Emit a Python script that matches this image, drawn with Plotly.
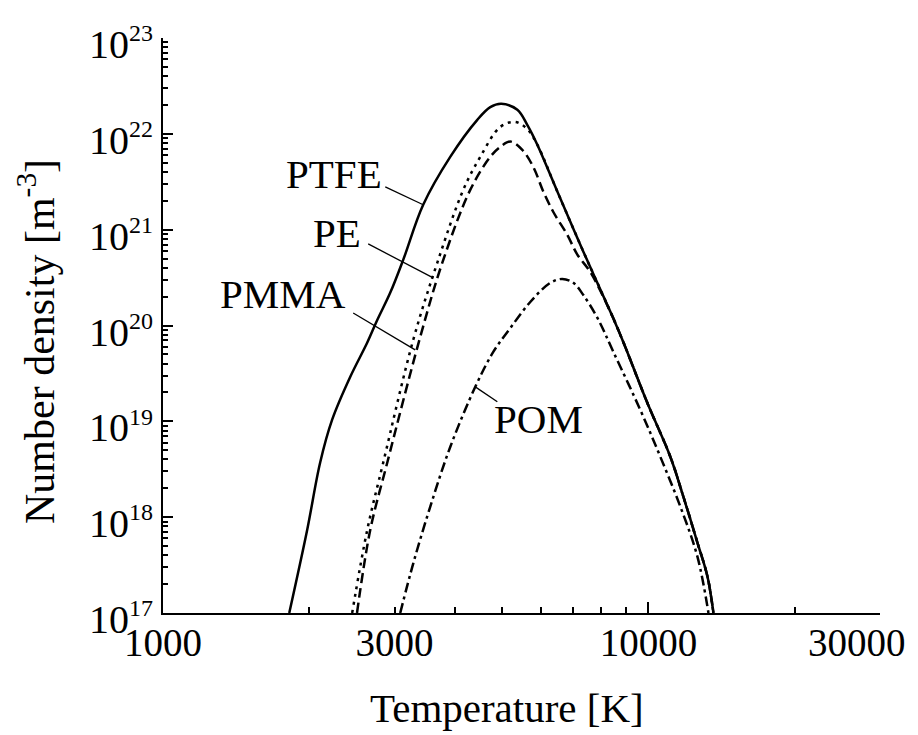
import numpy as np
import plotly.graph_objects as go

# ---------------- data ----------------
ptfe_T = [1820, 1981, 2107, 2231, 2430, 2634, 2763, 2938, 3125, 3436, 3906, 4441, 4723, 4976,
          5370, 5629, 5904, 6492, 7345, 8350, 8880, 9953, 11101, 11807, 12622, 13233, 13614]
ptfe_n = [1.0e17, 7.3e17, 3.7e18, 1.04e19, 2.9e19, 6.6e19, 1.14e20, 2.19e20, 4.84e20, 1.82e21,
          5.75e21, 1.4e22, 1.9e22, 2.06e22, 1.78e22, 1.24e22, 7.7e21, 2.5e21, 5.9e20, 1.39e20,
          6.7e19, 1.55e19, 4.25e18, 1.63e18, 5.4e17, 2.4e17, 1.0e17]

pe_T = [2453, 2634, 2842, 3278, 3673, 4155, 4504, 4953, 5318, 5629, 5904, 6492, 7345, 8350, 8880,
        9953, 11101, 11807, 12622, 13233, 13614]
pe_n = [1.0e17, 7.3e17, 3.7e18, 7.1e19, 4.5e20, 2.6e21, 5.75e21, 1.18e22, 1.33e22, 1.12e22, 7.7e21,
        2.5e21, 5.9e20, 1.39e20, 6.7e19, 1.55e19, 4.25e18, 1.63e18, 5.4e17, 2.4e17, 1.0e17]

pmma_T = [2510, 2672, 2897, 3388, 3761, 4295, 4723, 4953, 5194, 5498, 5794, 6074, 6370, 6808, 7138,
          7594, 8350, 8880, 9953, 11101, 11807, 12622, 13233, 13614]
pmma_n = [1.0e17, 7.3e17, 3.7e18, 7.6e19, 4.5e20, 2.6e21, 5.75e21, 7.3e21, 8.3e21, 6.8e21, 4.5e21,
          2.5e21, 1.53e21, 8.8e20, 5.5e20, 3.6e20, 1.39e20, 6.7e19, 1.55e19, 4.25e18, 1.63e18,
          5.4e17, 2.4e17, 1.0e17]

pom_T = [3081, 3278, 3552, 3906, 4399, 4791, 5194, 5710, 6281, 6646, 7005, 7345, 7852, 8470, 9627,
         10585, 11641, 12622, 13297]
pom_n = [1.0e17, 3.3e17, 1.28e18, 5.4e18, 2.29e19, 5.3e19, 9.4e19, 1.76e20, 2.79e20, 3.06e20, 2.79e20,
         2.08e20, 1.2e20, 5.3e19, 1.31e19, 4.25e18, 1.28e18, 3.85e17, 1.0e17]

series_names = ["PTFE", "PE", "PMMA", "POM"]

# leader lines: (label end) -> (point on curve)
leader_T = {"PTFE": [2870, 3436], "PE": [2647, 3603], "PMMA": [2465, 3308], "POM": [4399, 4884]}
leader_n = {"PTFE": [2.8e21, 1.82e21], "PE": [7.1e20, 3.14e20], "PMMA": [1.35e20, 5.56e19],
            "POM": [2.29e19, 1.6e19]}

x_tick_vals = [1000, 3000, 10000]
x_tick_text = ["1000", "3000", "10000"]
x_edge_tick_text = "30000"
x_long_ticks = [1000, 10000]

y_exponents = [17, 18, 19, 20, 21, 22, 23]
y_tick_vals = [10.0 ** e for e in y_exponents]
y_tick_text = ["10<sup><span style='font-size:24px'>%d</span></sup>" % e for e in y_exponents]

x_title = "Temperature [K]"
y_title = "Number density [m<sup>-3</sup>]"

FONT = "Liberation Serif, Times New Roman, serif"

fig = go.Figure()

styles = {
    "PTFE": dict(color="black", width=2.5, dash="solid"),
    "PE": dict(color="black", width=2.5, dash="3px,5px"),
    "PMMA": dict(color="black", width=2.5, dash="10px,5px"),
    "POM": dict(color="black", width=2.5, dash="10px,4px,3px,4px"),
}
data = {"PTFE": (ptfe_T, ptfe_n), "PE": (pe_T, pe_n), "PMMA": (pmma_T, pmma_n), "POM": (pom_T, pom_n)}

for name in series_names:
    T, n = data[name]
    fig.add_trace(go.Scatter(x=T, y=n, mode="lines", name=name,
                             line=dict(shape="spline", smoothing=1.0, **styles[name]),
                             showlegend=False, hoverinfo="skip"))

for name in series_names:
    fig.add_trace(go.Scatter(x=leader_T[name], y=leader_n[name], mode="lines",
                             line=dict(color="black", width=1.3), showlegend=False, hoverinfo="skip"))

# invisible trace on the overlay axis that carries the long ticks
fig.add_trace(go.Scatter(x=[x_long_ticks[0]], y=[y_tick_vals[0]], xaxis="x2", mode="markers",
                         marker=dict(opacity=0), showlegend=False, hoverinfo="skip"))

# page body has an 8px margin -> figure coords = screen coords - 8
OFF = 8
W, H = 918, 735
L, TOP = 163 - OFF, 38 - OFF
R = W - (880 - OFF)
B = H - (613 - OFF)
pw, ph = W - L - R, H - TOP - B


def px2paper(px, py):
    """screen pixel -> paper coordinates"""
    return (px - OFF - L) / pw, (H - B - (py - OFF)) / ph


label_pos = {"PTFE": (384, 174, "right"), "PE": (363, 233, "right"), "PMMA": (348, 294, "right"),
             "POM": (492, 419, "left")}
annotations = []
for name in series_names:
    px, py, anc = label_pos[name]
    ax_, ay_ = px2paper(px, py)
    annotations.append(dict(x=ax_, y=ay_, xref="paper", yref="paper", text=name, showarrow=False,
                            xanchor=anc, yanchor="middle", font=dict(family=FONT, size=41, color="black")))

tx, ty = px2paper(507, 708)
annotations.append(dict(x=tx, y=ty, xref="paper", yref="paper", text=x_title, showarrow=False,
                        xanchor="center", yanchor="middle", font=dict(family=FONT, size=41, color="black")))
yx, yy = px2paper(36, 342)
annotations.append(dict(x=yx, y=yy, xref="paper", yref="paper", text=y_title, showarrow=False,
                        textangle=-90, xanchor="center", yanchor="middle",
                        font=dict(family=FONT, size=42, color="black")))
ex, ey = px2paper(908, 642)
annotations.append(dict(x=ex, y=ey, xref="paper", yref="paper", text=x_edge_tick_text, showarrow=False,
                        xanchor="right", yanchor="middle", font=dict(family=FONT, size=39, color="black")))

xrange = [np.log10(1000), np.log10(30000)]
fig.update_layout(
    width=W, height=H,
    margin=dict(l=L, r=R, t=TOP, b=B),
    paper_bgcolor="white", plot_bgcolor="white",
    font=dict(family=FONT, size=39, color="black"),
    xaxis=dict(type="log", range=xrange, showgrid=False, zeroline=False,
               showline=True, linecolor="black", linewidth=2,
               tickmode="array", tickvals=x_tick_vals, ticktext=x_tick_text,
               ticks="inside", ticklen=6, tickwidth=1.5, tickcolor="black",
               ticklabelstandoff=-6,
               tickfont=dict(family=FONT, size=39),
               minor=dict(dtick="D1", ticks="inside", ticklen=6, tickwidth=1.5, tickcolor="black",
                          showgrid=False)),
    xaxis2=dict(type="log", range=xrange, overlaying="x", anchor="y", side="bottom",
                showgrid=False, zeroline=False, showline=False,
                tickmode="array", tickvals=x_long_ticks, showticklabels=False,
                ticks="inside", ticklen=11, tickwidth=1.5, tickcolor="black"),
    yaxis=dict(type="log", range=[17, 23], showgrid=False, zeroline=False,
               showline=True, linecolor="black", linewidth=2,
               tickmode="array", tickvals=y_tick_vals, ticktext=y_tick_text,
               ticks="inside", ticklen=10, tickwidth=1.5, tickcolor="black",
               ticklabelshift=6,
               tickfont=dict(family=FONT, size=40),
               minor=dict(dtick="D1", ticks="inside", ticklen=5, tickwidth=1.5, tickcolor="black",
                          showgrid=False)),
    annotations=annotations,
)

fig.write_html("out.html")
